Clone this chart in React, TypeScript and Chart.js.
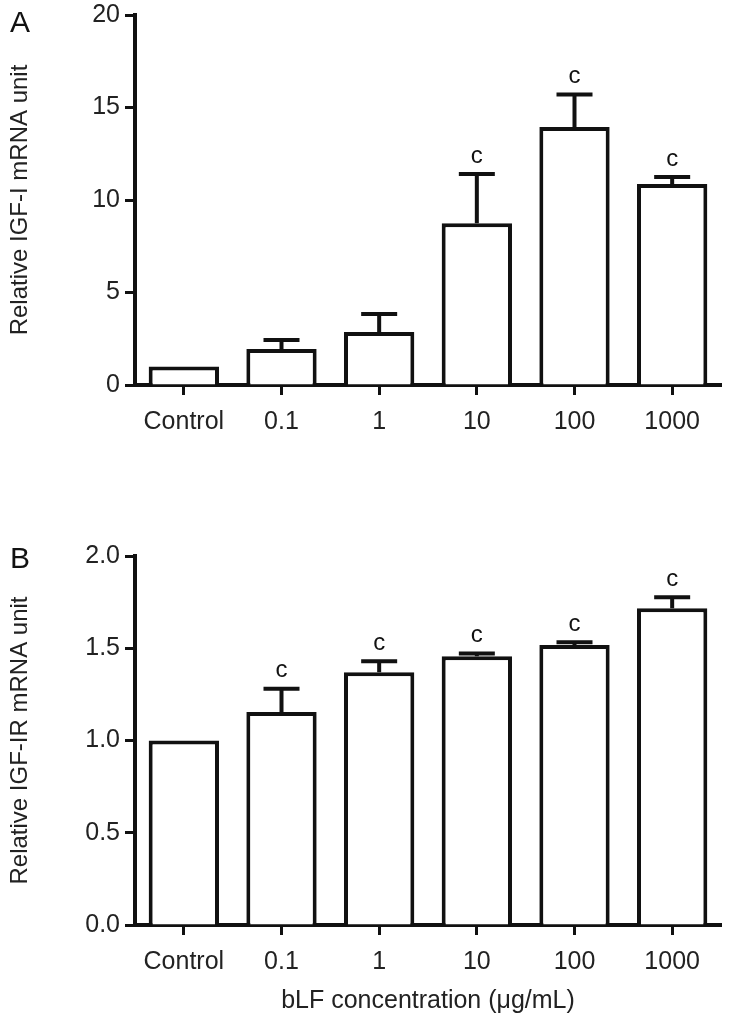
import React, { useEffect, useRef } from 'react';
import { Chart, registerables } from 'chart.js';

Chart.register(...registerables);

const categories = ['Control', '0.1', '1', '10', '100', '1000'];
const igf1Means = [1.0, 1.95, 2.86, 8.75, 13.95, 10.86];
const igf1Sem = [0, 0.48, 0.98, 2.65, 1.75, 0.39];
const igf1Sig = ['', '', '', 'c', 'c', 'c'];
const igf1rMeans = [1.0, 1.155, 1.37, 1.457, 1.517, 1.717];
const igf1rSem = [0, 0.125, 0.06, 0.015, 0.015, 0.06];
const igf1rSig = ['', 'c', 'c', 'c', 'c', 'c'];
const yTicksA = [0, 5, 10, 15, 20];
const yTicksB = [0, 0.5, 1.0, 1.5, 2.0];

const FONT = '"Liberation Sans", Arial, sans-serif';
const INK = '#111';
const TEXT = '#222';

const errorBarPlugin = {
  id: 'errorBars',
  afterDatasetsDraw(chart: any, _args: any, opts: any) {
    const { ctx } = chart;
    const y = chart.scales.y;
    const meta = chart.getDatasetMeta(0);
    const data = chart.data.datasets[0].data as number[];
    ctx.save();
    ctx.strokeStyle = INK;
    ctx.fillStyle = INK;
    ctx.lineWidth = 4;
    ctx.lineCap = 'butt';
    meta.data.forEach((el: any, i: number) => {
      const s = opts.sem[i];
      const top = y.getPixelForValue(data[i] + s);
      if (s > 0) {
        ctx.beginPath();
        ctx.moveTo(el.x, el.y);
        ctx.lineTo(el.x, top);
        ctx.moveTo(el.x - 18, top);
        ctx.lineTo(el.x + 18, top);
        ctx.stroke();
      }
      const label = opts.sig[i];
      if (label) {
        ctx.font = `24px ${FONT}`;
        ctx.textAlign = 'center';
        ctx.textBaseline = 'middle';
        ctx.fillText(label, el.x, top - 18);
      }
    });
    ctx.restore();
  },
};

const panelLabelPlugin = {
  id: 'panelLabel',
  afterDraw(chart: any, _args: any, opts: any) {
    const { ctx } = chart;
    ctx.save();
    ctx.font = `30px ${FONT}`;
    ctx.fillStyle = INK;
    ctx.textAlign = 'left';
    ctx.textBaseline = 'alphabetic';
    ctx.fillText(opts.text, opts.x, opts.y);
    ctx.restore();
  },
};

function makeConfig(p: {
  values: number[];
  sem: number[];
  sig: string[];
  ticks: number[];
  decimals: number;
  yTitle: string;
  xTitle: string;
  padTop: number;
  xHeight: number;
  letter: string;
  letterY: number;
}): any {
  const tickFont = { family: FONT, size: 25 };
  return {
    type: 'bar',
    data: {
      labels: categories,
      datasets: [
        {
          data: p.values,
          backgroundColor: '#fff',
          borderColor: INK,
          borderWidth: 4,
          borderSkipped: 'bottom',
          barPercentage: 0.72,
          categoryPercentage: 1,
        },
      ],
    },
    options: {
      responsive: false,
      animation: false,
      devicePixelRatio: 1,
      layout: { padding: { top: p.padTop, right: 8, left: 0, bottom: 0 } },
      plugins: {
        legend: { display: false },
        tooltip: { enabled: false },
        errorBars: { sem: p.sem, sig: p.sig },
        panelLabel: { text: p.letter, x: 10, y: p.letterY },
      },
      scales: {
        x: {
          offset: true,
          grid: {
            offset: false,
            drawOnChartArea: false,
            drawTicks: true,
            tickLength: 10,
            tickWidth: 3,
            tickColor: INK,
          },
          border: { display: true, color: INK, width: 4 },
          ticks: { color: TEXT, font: tickFont, padding: 12, maxRotation: 0 },
          title: {
            display: !!p.xTitle,
            text: p.xTitle,
            color: TEXT,
            font: { family: FONT, size: 25 },
            padding: { top: 0, bottom: 11 },
          },
          afterFit: (scale: any) => {
            scale.height = p.xHeight;
            scale.paddingLeft = 0;
            scale.paddingRight = 0;
          },
        },
        y: {
          min: p.ticks[0],
          max: p.ticks[p.ticks.length - 1],
          afterBuildTicks: (scale: any) => {
            scale.ticks = p.ticks.map((v) => ({ value: v }));
          },
          grid: {
            drawOnChartArea: false,
            drawTicks: true,
            tickLength: 10,
            tickWidth: 3,
            tickColor: INK,
          },
          border: { display: true, color: INK, width: 4 },
          ticks: {
            color: TEXT,
            font: tickFont,
            padding: 5,
            callback: (v: any) => Number(v).toFixed(p.decimals),
          },
          title: {
            display: true,
            text: p.yTitle,
            color: TEXT,
            font: { family: FONT, size: 24 },
            padding: { top: 6, bottom: 0 },
          },
          afterFit: (scale: any) => {
            scale.width = 135;
            scale.paddingTop = 0;
            scale.paddingBottom = 0;
          },
        },
      },
    },
    plugins: [errorBarPlugin, panelLabelPlugin],
  };
}

function Panel(props: { top: number; height: number; config: any }) {
  const ref = useRef<HTMLCanvasElement | null>(null);
  useEffect(() => {
    if (!ref.current) return;
    const chart = new Chart(ref.current, props.config);
    return () => chart.destroy();
  }, []);
  return (
    <canvas
      ref={ref}
      width={729}
      height={props.height}
      style={{ position: 'absolute', left: 0, top: props.top, width: 729, height: props.height }}
    />
  );
}

export default function App() {
  const configA = makeConfig({
    values: igf1Means,
    sem: igf1Sem,
    sig: igf1Sig,
    ticks: yTicksA,
    decimals: 0,
    yTitle: 'Relative IGF-I mRNA unit',
    xTitle: '',
    padTop: 15,
    xHeight: 65,
    letter: 'A',
    letterY: 32,
  });
  const configB = makeConfig({
    values: igf1rMeans,
    sem: igf1rSem,
    sig: igf1rSig,
    ticks: yTicksB,
    decimals: 1,
    yTitle: 'Relative IGF-IR mRNA unit',
    xTitle: 'bLF concentration (μg/mL)',
    padTop: 96,
    xHeight: 102,
    letter: 'B',
    letterY: 108,
  });
  return (
    <div style={{ position: 'absolute', left: 0, top: 0, width: 729, height: 1027, background: '#fff' }}>
      <Panel top={0} height={450} config={configA} />
      <Panel top={460} height={567} config={configB} />
    </div>
  );
}
